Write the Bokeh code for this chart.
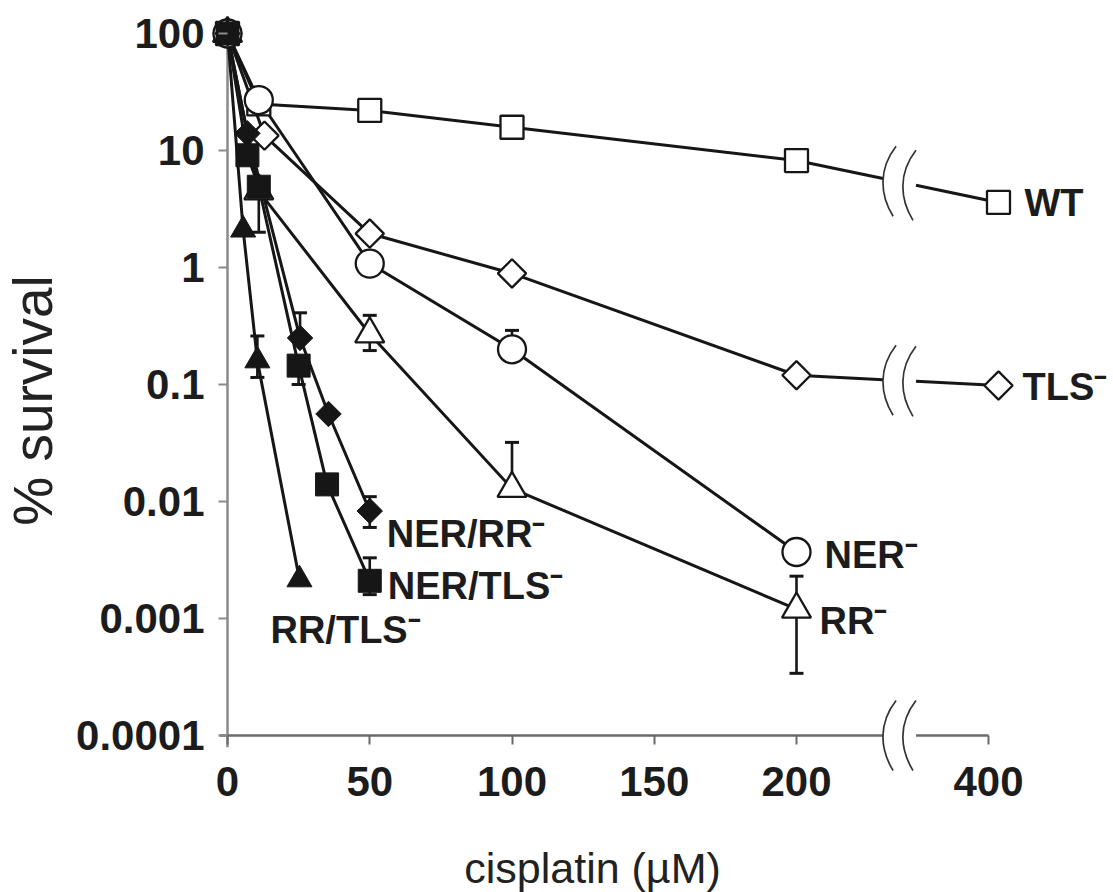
from math import pi, log10
from bokeh.plotting import figure
from bokeh.models import FixedTicker, Label
from bokeh.embed import file_html
from bokeh.resources import INLINE
from bokeh.core.properties import value

# ---------------- data ----------------
wt_x = [0, 11, 50, 100, 200, 400]
wt_y = [100, 25, 22, 15.8, 8.2, 3.6]
tls_x = [0, 13, 50, 100, 200, 400]
tls_y = [100, 13.4, 1.95, 0.89, 0.12, 0.098]
ner_x = [0, 11, 50, 100, 200]
ner_y = [100, 27, 1.08, 0.20, 0.0037]
rr_x = [0, 11, 50, 100, 200]
rr_y = [100, 4.5, 0.27, 0.0129, 0.0012]
nerrr_x = [0, 7, 25.5, 35.5, 50]
nerrr_y = [100, 14, 0.25, 0.056, 0.0083]
nertls_x = [0, 7, 11, 25, 35, 50]
nertls_y = [100, 9.1, 4.9, 0.145, 0.014, 0.0021]
rrtls_x = [0, 5.5, 10.5, 25.3]
rrtls_y = [100, 2.1, 0.16, 0.00215]

# error bars: x, lower, upper
rr_err_x = [11, 50, 100, 200]
rr_err_lo = [2.0, 0.195, 0.0129, 0.00034]
rr_err_hi = [4.5, 0.39, 0.032, 0.0023]
ner_err_x = [100]
ner_err_lo = [0.20]
ner_err_hi = [0.29]
nerrr_err_x = [25.5, 50]
nerrr_err_lo = [0.25, 0.006]
nerrr_err_hi = [0.41, 0.011]
nertls_err_x = [25, 50]
nertls_err_lo = [0.10, 0.0016]
nertls_err_hi = [0.145, 0.0033]
rrtls_err_x = [10.5]
rrtls_err_lo = [0.115]
rrtls_err_hi = [0.26]

x_tick_values = [0, 50, 100, 150, 200, 400]
x_tick_labels = ["0", "50", "100", "150", "200", "400"]
y_tick_values = [0.0001, 0.001, 0.01, 0.1, 1, 10, 100]
y_tick_labels = ["0.0001", "0.001", "0.01", "0.1", "1", "10", "100"]

series_labels = ["WT", "TLS\u207b", "NER\u207b", "RR\u207b", "NER/RR\u207b", "NER/TLS\u207b", "RR/TLS\u207b"]

# ---------------- geometry / axis-break mapping ----------------
PXU = 2.845            # px per x unit
DEC = 117.0            # px per decade
X0_PX = 227.0          # canvas x of dose 0
Y100_PX = 33.0         # canvas y of 100 %
POS_400 = 271.0        # plotted position of the 400 uM dose (after the break)
TICK_400 = 267.5       # axis position of the "400" tick
BREAK_A = 235.0        # end x of first break curve
BREAK_B = 242.0        # end x of second break curve

def xp(v):
    return v if v <= 200 else POS_400

def xs(vals):
    return [xp(v) for v in vals]

def ux(px):
    return px / PXU

def ymul(y, px):
    return y * 10 ** (px / DEC)

def interp(xa, ya, xb, yb, x):
    return 10 ** (log10(ya) + (log10(yb) - log10(ya)) * (x - xa) / (xb - xa))

FONT = "Liberation Sans"
INK = "#161616"

W, H = 1113, 892
x_start = -X0_PX / PXU
x_end = x_start + W / PXU
y_top = 2 + Y100_PX / DEC
y_bot = y_top - H / DEC

p = figure(width=W, height=H, x_range=(x_start, x_end), y_range=(10 ** y_bot, 10 ** y_top),
           y_axis_type="log", output_backend="svg", toolbar_location=None,
           min_border_left=0, min_border_right=0, min_border_top=0, min_border_bottom=0)
p.outline_line_color = None
p.xgrid.visible = False
p.ygrid.visible = False
p.background_fill_color = "white"

# axes (library axes, placed at dose 0 / 0.0001 %)
x_ticks = [TICK_400 if v > 200 else v for v in x_tick_values]
p.xaxis.ticker = FixedTicker(ticks=x_ticks, minor_ticks=[])
p.xaxis.major_label_overrides = {t: s for t, s in zip(x_ticks, x_tick_labels)}
p.xaxis.fixed_location = y_tick_values[0]
p.yaxis.ticker = FixedTicker(ticks=y_tick_values, minor_ticks=[])
p.yaxis.major_label_overrides = {t: s for t, s in zip(y_tick_values, y_tick_labels)}
p.yaxis.fixed_location = 0
for ax, standoff, tc in ((p.xaxis, 22, "#6a6a6a"), (p.yaxis, 14, "#8a8a8a")):
    ax.axis_line_color = None
    ax.major_tick_in = 0
    ax.major_tick_out = 9
    ax.minor_tick_out = 0
    ax.minor_tick_in = 0
    ax.major_tick_line_color = tc
    ax.major_tick_line_width = 2
    ax.major_label_standoff = standoff
    ax.major_label_text_font = FONT
    ax.major_label_text_font_style = "bold"
    ax.major_label_text_font_size = "42px"
    ax.major_label_text_color = "#1c1c1c"

# axis lines drawn with a break
y0 = y_tick_values[0]
gap_l = BREAK_A - ux(13)
p.segment(x0=[0], y0=[10 ** (-4.1)], x1=[0], y1=[y_tick_values[-1]], line_color="#8a8a8a", line_width=2.5)
p.segment(x0=[-ux(8), BREAK_B], y0=[y0, y0], x1=[gap_l, TICK_400], y1=[y0, y0],
          line_color="#6a6a6a", line_width=2.5)

def break_marks(xa, ya, xb, yb):
    xs0, ys0, xs1, ys1, cx0, cy0, cx1, cy1 = [], [], [], [], [], [], [], []
    for a in (BREAK_A, BREAK_B):
        yc = ya if xb is None else interp(xa, ya, xb, yb, a)
        xs0.append(a); ys0.append(ymul(yc, 35))
        xs1.append(a - ux(3)); ys1.append(ymul(yc, -35))
        cx0.append(a - ux(18)); cy0.append(ymul(yc, 12))
        cx1.append(a - ux(16)); cy1.append(ymul(yc, -14))
    p.bezier(x0=xs0, y0=ys0, x1=xs1, y1=ys1, cx0=cx0, cy0=cy0, cx1=cx1, cy1=cy1,
             line_color="#333333", line_width=1.7)

break_marks(0, y0, None, None)

# series lines
LW = 3.0
for sx, sy in ((wt_x, wt_y), (tls_x, tls_y), (ner_x, ner_y), (rr_x, rr_y),
               (nerrr_x, nerrr_y), (nertls_x, nertls_y), (rrtls_x, rrtls_y)):
    main_x = [v for v in sx if v <= 200]
    main_y = sy[:len(main_x)]
    p.line(xs(main_x), main_y, line_color=INK, line_width=LW)
    if len(main_x) < len(sx):
        xa, ya = xp(sx[len(main_x) - 1]), sy[len(main_x) - 1]
        xb, yb = xp(sx[len(main_x)]), sy[len(main_x)]
        p.segment(x0=[xa, BREAK_B], y0=[ya, interp(xa, ya, xb, yb, BREAK_B)],
                  x1=[gap_l, xb], y1=[interp(xa, ya, xb, yb, gap_l), yb],
                  line_color=INK, line_width=LW)
        break_marks(xa, ya, xb, yb)

# error bars
for ex, lo, hi in ((rr_err_x, rr_err_lo, rr_err_hi), (ner_err_x, ner_err_lo, ner_err_hi),
                   (nerrr_err_x, nerrr_err_lo, nerrr_err_hi), (nertls_err_x, nertls_err_lo, nertls_err_hi),
                   (rrtls_err_x, rrtls_err_lo, rrtls_err_hi)):
    p.segment(x0=xs(ex), y0=lo, x1=xs(ex), y1=hi, line_color=INK, line_width=2.6)
    p.scatter(xs(ex + ex), lo + hi, marker="dash", size=14, line_color=INK, line_width=3)

# markers (open first, filled on top)
MLW = 2.3
p.scatter(xs(wt_x), wt_y, marker="square", size=23, fill_color="white", line_color=INK, line_width=MLW)
p.scatter(xs(tls_x), tls_y, marker="square", angle=pi / 4, size=20, fill_color="white", line_color=INK, line_width=MLW)
p.scatter(xs(rr_x), rr_y, marker="triangle", size=29, fill_color="white", line_color=INK, line_width=MLW)
p.scatter(xs(ner_x), ner_y, marker="circle", size=28, fill_color="white", line_color=INK, line_width=MLW)
p.scatter(xs(rrtls_x), rrtls_y, marker="triangle", size=25, fill_color=INK, line_color=INK, line_width=1)
p.scatter(xs(nerrr_x), nerrr_y, marker="square", angle=pi / 4, size=18, fill_color=INK, line_color=INK, line_width=1)
p.scatter(xs(nertls_x), nertls_y, marker="square", size=23, fill_color=INK, line_color=INK, line_width=1)

# series labels, anchored at each series' last point
ends = [(wt_x, wt_y), (tls_x, tls_y), (ner_x, ner_y), (rr_x, rr_y),
        (nerrr_x, nerrr_y), (nertls_x, nertls_y), (rrtls_x, rrtls_y)]
label_dx = [26, 24, 28, 23, 17, 18, -29]
label_dy = [1, 1, 3, 12, 23, 5, 50]
p.text(x=[xp(e[0][-1]) for e in ends], y=[e[1][-1] for e in ends], text=series_labels,
       x_offset=label_dx, y_offset=label_dy, text_font=value(FONT), text_font_style="bold",
       text_font_size="38px", text_color="#1c1c1c", text_align="left", text_baseline="middle")

# axis titles
p.add_layout(Label(x=-68.2, y=10 ** (2 - 367 / DEC), text="% survival", angle=pi / 2,
                   text_font=FONT, text_font_size="55px", text_color="#222222",
                   text_align="center", text_baseline="middle"))
p.add_layout(Label(x=128.3, y=10 ** (2 - 834 / DEC), text="cisplatin (\u00b5M)",
                   text_font=FONT, text_font_size="43px", text_color="#222222",
                   text_align="center", text_baseline="alphabetic"))

open("out.html", "w").write(file_html(p, INLINE))
